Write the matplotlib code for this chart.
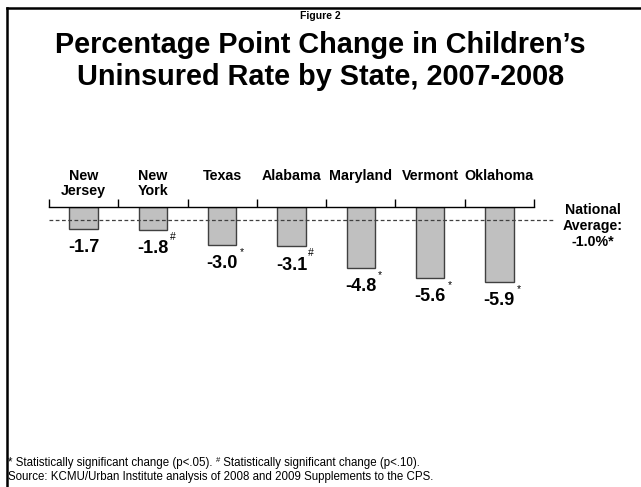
import matplotlib.pyplot as plt
from matplotlib.lines import Line2D
from matplotlib.offsetbox import TextArea, HPacker, AnchoredOffsetbox
import numpy as np

plt.rcParams['font.family'] = ['Liberation Sans', 'DejaVu Sans']

# Data
states = ['New\nJersey', 'New\nYork', 'Texas', 'Alabama', 'Maryland', 'Vermont', 'Oklahoma']
change = [-1.7, -1.8, -3.0, -3.1, -4.8, -5.6, -5.9]
marks = ['', '#', '*', '#', '*', '*', '*']
national = -1.0

fig = plt.figure(figsize=(6.41, 4.87), dpi=100)
ax = fig.add_axes([0.0764, 0.1848, 0.7566, 0.3901])

x = np.arange(len(states))
ax.bar(x, change, width=0.41, color='#c0c0c0', edgecolor='#404040', linewidth=1)

ax.set_xlim(-0.5, len(states) - 0.5)
ax.set_ylim(-14.96, 0)

# zero line with upward ticks between categories
for s in ['left', 'right', 'bottom']:
    ax.spines[s].set_visible(False)
ax.spines['top'].set_linewidth(1)
ax.xaxis.tick_top()
ax.set_xticks(np.arange(-0.5, len(states), 1))
ax.tick_params(axis='x', direction='out', length=6, width=1, labeltop=False)
ax.set_yticks([])

# national average reference line
ax.plot([-0.5, 6.78], [national, national], ls=(0, (3, 2)), color='#404040',
        lw=0.9, clip_on=False)

for i, (name, v, m) in enumerate(zip(states, change, marks)):
    ax.annotate(name, xy=(i, 0), xytext=(0, 27.5), textcoords='offset points',
                ha='center', va='top', fontsize=10.3, fontweight='bold',
                linespacing=1.12)
    ax.annotate(f'{v:.1f}', xy=(i, v), xytext=(0, -13.5), textcoords='offset points',
                ha='center', va='center', fontsize=13, fontweight='bold')
    if m:
        ax.annotate(m, xy=(i, v), xytext=(14, -5), textcoords='offset points',
                    ha='center', va='center', fontsize=7.5)

fig.text(0.925, 1 - 226 / 487, 'National\nAverage:\n-1.0%*', ha='center', va='center',
         fontsize=10.2, fontweight='bold', linespacing=1.18)

# titles
fig.text(0.5, 1 - 16 / 487, 'Figure 2', ha='center', va='center',
         fontsize=7.5, fontweight='bold')
fig.text(0.5, 1 - 61 / 487, 'Percentage Point Change in Children\u2019s\nUninsured Rate by State, 2007-2008',
         ha='center', va='center', fontsize=20.8, fontweight='bold', linespacing=1.2)

# footnotes (superscript # in first line)
fs = 8.3
parts = HPacker(children=[
    TextArea('* Statistically significant change (p<.05). ', textprops=dict(fontsize=fs)),
    TextArea('#', textprops=dict(fontsize=5.5)),
    TextArea(' Statistically significant change (p<.10).', textprops=dict(fontsize=fs)),
], align='top', pad=0, sep=0)
box = AnchoredOffsetbox(loc='center left', child=parts, pad=0, borderpad=0, frameon=False,
                        bbox_to_anchor=(0.013, 1 - 463 / 487), bbox_transform=fig.transFigure)
fig.add_artist(box)
fig.text(0.013, 1 - 477 / 487,
         'Source: KCMU/Urban Institute analysis of 2008 and 2009 Supplements to the CPS.',
         ha='left', va='center', fontsize=fs)

# slide frame
fig.add_artist(Line2D([7 / 641, 1], [1 - 8 / 487, 1 - 8 / 487], color='black', lw=1.8))
fig.add_artist(Line2D([7 / 641, 7 / 641], [0, 1 - 8 / 487], color='black', lw=1.8))

plt.savefig('out.png', dpi=100)
